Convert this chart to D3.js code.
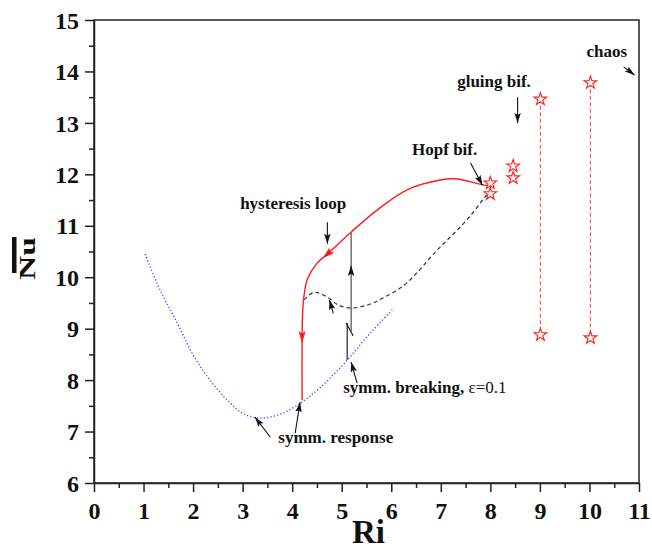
<!DOCTYPE html>
<html><head><meta charset="utf-8">
<script src="https://cdn.jsdelivr.net/npm/d3@7"></script>
<style>body{margin:0;background:#fff}</style>
</head><body><svg id="c" width="652" height="551"></svg>
<script>
// ---- data (Ri, Nu) ----
const xTicks = [0,1,2,3,4,5,6,7,8,9,10,11];
const xMinorTicks = [0.5,1.5,2.5,3.5,4.5,5.5,6.5,7.5,8.5,9.5,10.5];
const yTicks = [6,7,8,9,10,11,12,13,14,15];
const yMinorTicks = [6.5,7.5,8.5,9.5,10.5,11.5,12.5,13.5,14.5];

const symmResponse = [[1.03,10.45],[1.33,9.76],[1.68,9.11],[2.0,8.49],[2.34,8.0],[2.69,7.61],[3.01,7.35],[3.35,7.26],[3.76,7.34],[4.16,7.55],[4.57,7.86],[5.11,8.39],[5.58,8.92],[6.02,9.36]];
const hysteresis = [[4.20,7.61],[4.20,8.78],[4.21,9.30],[4.24,9.65],[4.31,9.97],[4.50,10.27],[4.71,10.45],[5.17,10.86],[5.72,11.31],[6.32,11.70],[6.99,11.89],[7.33,11.91],[7.74,11.82],[8.0,11.77]];
const symmBreaking = [[4.24,9.56],[4.40,9.69],[4.51,9.70],[4.73,9.60],[4.91,9.47],[5.17,9.40],[5.52,9.46],[5.84,9.60],[6.24,9.83],[6.55,10.12],[6.85,10.45],[7.19,10.78],[7.54,11.13],[7.86,11.52],[7.96,11.64]];
const transLower = [[5.11,8.39],[5.11,9.11]];
const transBreak = [[5.09,9.11],[5.23,8.86]];
const transUpper = [[5.19,8.92],[5.19,10.86]];
const hopfStars = [[8.0,11.83],[8.0,11.62],[8.46,12.16],[8.46,11.93]];
const rangeStars = [[9.01,13.46],[9.01,8.88],[10.02,13.78],[10.02,8.82]];
const rangeLines = [[[9.01,13.46],[9.01,8.88]],[[10.02,13.78],[10.02,8.82]]];

const labels = [
  {t:"hysteresis loop", x:2.95, y:11.33},
  {t:"Hopf bif.", x:6.42, y:12.38},
  {t:"gluing bif.", x:7.33, y:13.70},
  {t:"chaos", x:9.94, y:14.28},
  {t:"symm. response", x:3.72, y:6.78}
];
const arrows = [
  {from:[4.71,11.07], to:[4.71,10.65]},
  {from:[7.60,12.22], to:[7.84,11.79]},
  {from:[8.55,13.50], to:[8.55,13.00]},
  {from:[10.69,14.09], to:[10.91,13.93]},
  {from:[3.56,6.89], to:[3.25,7.28]},
  {from:[4.06,6.97], to:[4.16,7.57]},
  {from:[5.31,7.94], to:[5.19,8.35]},
  {from:[4.83,9.30], to:[4.75,9.56]}
];
const upHead = {from:[5.19,9.9], to:[5.19,10.24]};
const redHeads = [{from:[4.85,10.57], to:[4.62,10.37]},{from:[4.20,9.0], to:[4.20,8.72]}];

// ---- chart ----
const svg = d3.select("#c");
const x = d3.scaleLinear().domain([0,11]).range([94,639]);
const y = d3.scaleLinear().domain([6,15]).range([483,20]);
const serif = "'Liberation Serif','Times New Roman',serif";

// frame
svg.append("rect").attr("x",x(0)).attr("y",y(15)).attr("width",x(11)-x(0)).attr("height",y(6)-y(15))
  .attr("fill","none").attr("stroke","#222").attr("stroke-width",1.5);

function styleAxis(g){ g.selectAll("path,line").attr("stroke","#222").attr("stroke-width",1.5); }
const gx = svg.append("g").attr("transform",`translate(0,${y(6)})`)
  .call(d3.axisBottom(x).tickValues(xTicks).tickSize(9).tickSizeOuter(0).tickFormat(d3.format("d")));
styleAxis(gx);
gx.selectAll("text").attr("y",36).attr("dy",0).attr("font-family",serif).attr("font-weight","bold").attr("font-size",24).attr("fill","#111");
const gxm = svg.append("g").attr("transform",`translate(0,${y(6)})`)
  .call(d3.axisBottom(x).tickValues(xMinorTicks).tickSize(5).tickSizeOuter(0).tickFormat(""));
styleAxis(gxm); gxm.select(".domain").remove();

const gy = svg.append("g").attr("transform",`translate(${x(0)},0)`)
  .call(d3.axisLeft(y).tickValues(yTicks).tickSize(9).tickSizeOuter(0).tickFormat(d3.format("d")));
styleAxis(gy);
gy.selectAll("text").attr("x",-15).attr("dy","0.34em").attr("font-family",serif).attr("font-weight","bold").attr("font-size",24).attr("fill","#111");
const gym = svg.append("g").attr("transform",`translate(${x(0)},0)`)
  .call(d3.axisLeft(y).tickValues(yMinorTicks).tickSize(5).tickSizeOuter(0).tickFormat(""));
styleAxis(gym); gym.select(".domain").remove();

// axis titles
svg.append("text").attr("x",(x(0)+x(11))/2+2).attr("y",543).attr("text-anchor","middle")
  .attr("font-family",serif).attr("font-weight","bold").attr("font-size",33).attr("fill","#111").text("Ri");
svg.append("text").attr("transform","translate(35,258.5) rotate(-90)").attr("text-anchor","middle")
  .attr("font-family",serif).attr("font-weight","bold").attr("font-size",23)
  .attr("textLength",43).attr("lengthAdjust","spacingAndGlyphs").attr("fill","#111").text("Nu");
svg.append("rect").attr("x",12).attr("y",237).attr("width",4.5).attr("height",36).attr("fill","#111");

const line = d3.line().x(d=>x(d[0])).y(d=>y(d[1]));
const curve = d3.line().x(d=>x(d[0])).y(d=>y(d[1])).curve(d3.curveCatmullRom.alpha(0.5));

// curves
svg.append("path").attr("d",curve(symmResponse)).attr("fill","none").attr("stroke","#3a3aff")
  .attr("stroke-width",1.3).attr("stroke-dasharray","1.2,2.2");
svg.append("path").attr("d",curve(symmBreaking)).attr("fill","none").attr("stroke","#333")
  .attr("stroke-width",1.2).attr("stroke-dasharray","4,3");
svg.append("path").attr("d",curve(hysteresis)).attr("fill","none").attr("stroke","#ff1a1a").attr("stroke-width",1.4);

svg.append("path").attr("d",line(transLower)).attr("fill","none").attr("stroke","#111").attr("stroke-width",1.1);
svg.append("path").attr("d",line(transBreak)).attr("fill","none").attr("stroke","#111").attr("stroke-width",1.1);
svg.append("path").attr("d",line(transUpper)).attr("fill","none").attr("stroke","#666").attr("stroke-width",1.4);

rangeLines.forEach(l=>svg.append("path").attr("d",line(l)).attr("fill","none").attr("stroke","#ff5a5a")
  .attr("stroke-width",1.2).attr("stroke-dasharray","4,2.5"));

const star = d3.symbol().type(d3.symbolStar).size(50);
svg.selectAll(".star").data(hopfStars.concat(rangeStars)).join("path")
  .attr("transform",d=>`translate(${x(d[0])},${y(d[1])})`).attr("d",star)
  .attr("fill","#fff").attr("stroke","#ff2020").attr("stroke-width",1.1);

// arrows
function head(a, color, len, hw){
  const x1=x(a.from[0]), y1=y(a.from[1]), x2=x(a.to[0]), y2=y(a.to[1]);
  const dx=x2-x1, dy=y2-y1, L=Math.hypot(dx,dy), ux=dx/L, uy=dy/L;
  const bx=x2-ux*len, by=y2-uy*len, mx=x2-ux*len*0.8, my=y2-uy*len*0.8;
  svg.append("path").attr("d",`M${x2},${y2}L${bx-uy*hw},${by+ux*hw}L${mx},${my}L${bx+uy*hw},${by-ux*hw}Z`).attr("fill",color);
}
arrows.forEach(a=>{
  const x1=x(a.from[0]), y1=y(a.from[1]), x2=x(a.to[0]), y2=y(a.to[1]);
  svg.append("line").attr("x1",x1).attr("y1",y1).attr("x2",x2).attr("y2",y2).attr("stroke","#111").attr("stroke-width",1.1);
  head(a,"#111",10,3.2);
});
head(upHead,"#111",11,3.2);
redHeads.forEach(a=>head(a,"#ff1a1a",12,3.6));

// labels
labels.forEach(l=>svg.append("text").attr("x",x(l.x)).attr("y",y(l.y)).attr("font-family",serif)
  .attr("font-weight","bold").attr("font-size",17).attr("fill","#111").text(l.t));
const sb = svg.append("text").attr("x",x(5.03)).attr("y",y(7.75)).attr("font-family",serif).attr("font-size",17).attr("fill","#111");
sb.append("tspan").attr("font-weight","bold").text("symm. breaking, ");
sb.append("tspan").text("ε=0.1");
</script></body></html>
